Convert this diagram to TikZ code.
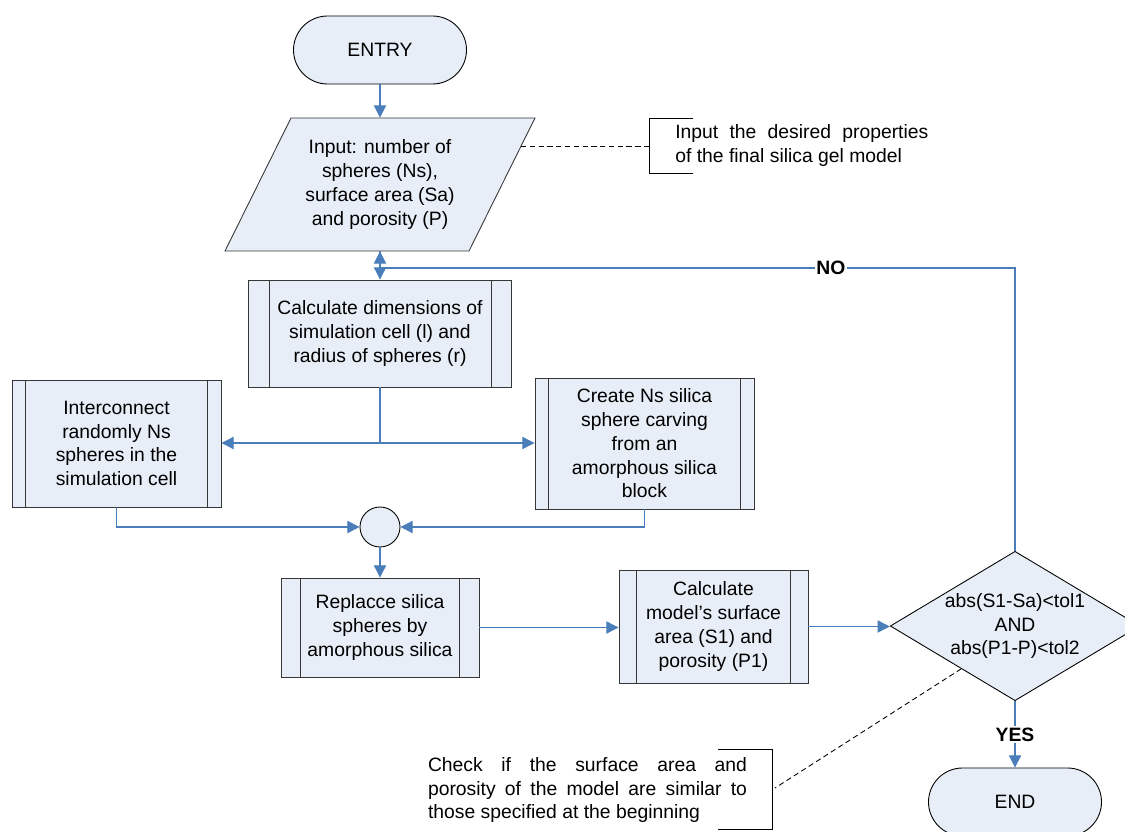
\documentclass[tikz,border=0pt]{standalone}
\usepackage{fontspec}
\setmainfont{Liberation Sans}
\usetikzlibrary{arrows.meta,positioning,calc,shapes.geometric}
\definecolor{cellfill}{RGB}{232,238,247}
\definecolor{flowblue}{RGB}{74,126,187}
\definecolor{edgegray}{RGB}{55,55,55}
\tikzset{base/.style={draw=edgegray,fill=cellfill,line width=0.5pt,align=center,font=\fontsize{11pt}{13.5pt}\selectfont,inner sep=2pt},term/.style={base,draw=black,rounded corners=0.68cm,minimum width=3.46cm,minimum height=1.36cm},proc/.style={base},decide/.style={base,diamond,aspect=1.67,inner sep=0pt},bar/.style={draw=edgegray,line width=0.5pt},flow/.style={-{Triangle[length=7pt,width=7pt]},draw=flowblue,line width=0.6pt},wire/.style={draw=flowblue,line width=0.6pt},note/.style={font=\fontsize{11pt}{13.3pt}\selectfont,align=justify,inner sep=0pt},brk/.style={draw=black,line width=0.5pt},lnk/.style={draw=black,line width=0.5pt,dash pattern=on 3pt off 2pt},lbl/.style={font=\bfseries\fontsize{11pt}{13pt}\selectfont,fill=white,inner sep=1pt}}
\newcommand{\sidebars}[2]{\draw[bar] ($(#1.north west)+(#2,0)$) -- ($(#1.south west)+(#2,0)$) ($(#1.north east)-(#2,0)$) -- ($(#1.south east)-(#2,0)$);}
\begin{document}
\begin{tikzpicture}
\useasboundingbox (0,0) rectangle (22.5,-16.64);
\node[term] (entry) at (7.6,-1.0) {ENTRY};
\draw[base] (5.82,-2.36) -- (10.70,-2.36) -- (9.38,-5.02) -- (4.50,-5.02) -- cycle;
\node[align=center,font=\fontsize{11pt}{13.5pt}\selectfont,minimum height=2.66cm,inner sep=0pt] (inp) at (7.6,-3.69) {Input: number of\\spheres (Ns),\\surface area (Sa)\\and porosity (P)};
\draw[flow] (entry.south) -- (inp.north);
\coordinate (inpedge) at (10.42,-2.92);
\coordinate (nt1br) at (12.98,-2.92);
\draw[brk] (13.86,-2.36) -| (12.98,-3.46) -- (13.86,-3.46);
\draw[lnk] (inpedge) -- (nt1br);
\node[note,text width=5.06cm,anchor=west] (nt1) at (13.5,-2.91) {Input the desired properties\linebreak of the final silica gel model};
\node[proc,minimum width=5.26cm,minimum height=2.14cm] (cdim) at (7.6,-6.67) {Calculate dimensions of\\simulation cell (l) and\\radius of spheres (r)};
\sidebars{cdim}{0.42}
\draw[flow] (inp.south) -- (cdim.north);
\node[proc,minimum width=4.18cm,minimum height=2.54cm] (rand) at (2.33,-8.87) {Interconnect\\randomly Ns\\spheres in the\\simulation cell};
\sidebars{rand}{0.28}
\node[proc,minimum width=4.38cm,minimum height=2.62cm] (carve) at (12.89,-8.87) {Create Ns silica\\sphere carving\\from an\\amorphous silica\\block};
\sidebars{carve}{0.28}
\coordinate (split) at (7.6,-8.86);
\draw[wire] (cdim.south) -- (split);
\draw[flow] (split) -- (split -| rand.east);
\draw[flow] (split) -- (split -| carve.west);
\node[base,draw=black,circle,minimum size=0.8cm,inner sep=0pt] (join) at (7.6,-10.54) {};
\draw[flow] (rand.south) |- (join.west);
\draw[flow] (carve.south) |- (join.east);
\node[proc,minimum width=3.96cm,minimum height=1.98cm] (repl) at (7.6,-12.55) {Replacce silica\\spheres by\\amorphous silica};
\sidebars{repl}{0.4}
\draw[flow] (join.south) -- (repl.north);
\node[proc,minimum width=3.78cm,minimum height=2.26cm] (cmod) at (14.27,-12.53) {Calculate\\model’s surface\\area (S1) and\\porosity (P1)};
\sidebars{cmod}{0.36}
\draw[flow] (repl.east) -- (repl.east -| cmod.west);
\node[decide,draw=black] (chk) at (20.3,-12.52) {abs(S1-Sa)<tol1\\AND\\abs(P1-P)<tol2};
\draw[flow] (cmod.east) -- (cmod.east -| chk.west);
\node[term] (end) at (20.3,-16.04) {END};
\draw[flow] (chk.south) -- node[lbl] {YES} (end.north);
\coordinate (loop) at (7.6,-5.36);
\draw[flow] (chk.north) |- node[lbl,pos=0.645] {NO} (loop) -- (inp.south);
\coordinate (chkedge) at ($(chk.west)!0.57!(chk.south)$);
\coordinate (nt2br) at (15.5,-15.76);
\draw[brk] (14.36,-14.98) -| (15.45,-16.58) -- (14.36,-16.58);
\draw[lnk] (chkedge) -- (nt2br);
\node[note,text width=6.38cm] (nt2) at (11.75,-15.8) {Check if the surface area and\linebreak porosity of the model are similar to\linebreak those specified at the beginning};
\end{tikzpicture}
\end{document}
